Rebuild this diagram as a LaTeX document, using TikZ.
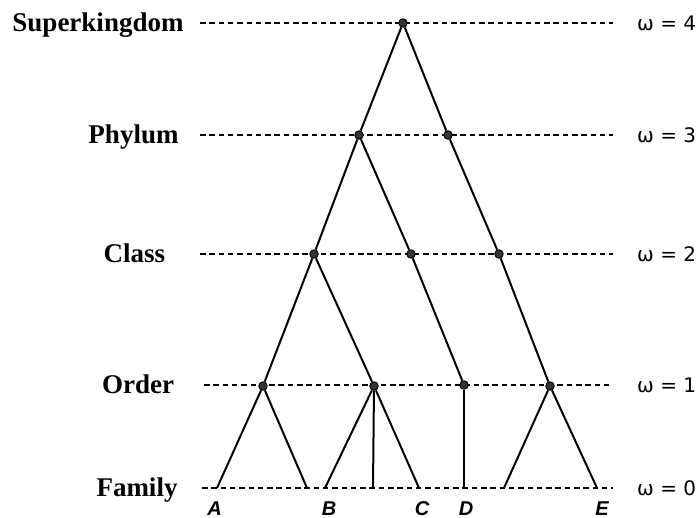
\documentclass[tikz,border=0pt]{standalone}
\usepackage{fontspec}
\setmainfont{Liberation Serif}
\newfontfamily\omegafont{DejaVu Sans}
\newfontfamily\leaffont{Liberation Sans}
\usetikzlibrary{positioning}

\begin{document}
\begin{tikzpicture}[
x=1pt, y=-1pt,
rank/.style={anchor=base, inner sep=0pt, font=\fontsize{27}{31}\selectfont\bfseries},
level/.style={anchor=west, inner sep=0pt, font=\omegafont\fontsize{20}{24}\selectfont},
taxon/.style={anchor=base, inner sep=0pt, font=\leaffont\fontsize{20}{23}\selectfont\bfseries\itshape},
guide/.style={line width=1.7pt, dash pattern=on 5.5pt off 3.8pt},
branch/.style={line width=2pt},
dot/.style={circle, draw=black, fill=black!80, line width=0.9pt, inner sep=0pt, minimum size=8.5pt}
]
\useasboundingbox (0,0) rectangle (700,517);

\foreach \y/\rname/\cx/\xs/\w in {23/Superkingdom/98/200/4, 135/Phylum/133.5/200/3,
    254/Class/134.5/200/2, 385/Order/138/204/1, 488/Family/137/202/0} {
  \node[rank] (r\w) at (\cx,\y+8) {\rname};
  \coordinate (gs\w) at (\xs,\y);
  \coordinate (ge\w) at (613,\y);
  \draw[guide] (gs\w) -- (ge\w);
  \node[level] (w\w) at (637,\y) {ω = \w};
}

\node[dot] (sk) at (403,23) {};
\node[dot] (p1) at (359,135) {};
\node[dot] (p2) at (448,135) {};
\node[dot] (c1) at (314,254) {};
\node[dot] (c2) at (411,254) {};
\node[dot] (c3) at (499,254) {};
\node[dot] (o1) at (263,386) {};
\node[dot] (o2) at (374,386) {};
\node[dot] (o3) at (464,385) {};
\node[dot] (o4) at (550,386) {};

\coordinate (fA) at (217,488);
\coordinate (fA2) at (307,488);
\coordinate (fB) at (325,488);
\coordinate (fB2) at (373,488);
\coordinate (fC) at (419,488);
\coordinate (fD) at (464,488);
\coordinate (fE2) at (504,488);
\coordinate (fE) at (597,488);

\draw[branch] (sk) -- (p1);
\draw[branch] (sk) -- (p2);
\draw[branch] (p1) -- (c1);
\draw[branch] (p1) -- (c2);
\draw[branch] (p2) -- (c3);
\draw[branch] (c1) -- (o1);
\draw[branch] (c1) -- (o2);
\draw[branch] (c2) -- (o3);
\draw[branch] (c3) -- (o4);
\draw[branch] (o1) -- (fA);
\draw[branch] (o1) -- (fA2);
\draw[branch] (o2) -- (fB);
\draw[branch] (o2) -- (fB2);
\draw[branch] (o2) -- (fC);
\draw[branch] (o3) -- (fD);
\draw[branch] (o4) -- (fE2);
\draw[branch] (o4) -- (fE);

\node[taxon] (A) at (214.5,515) {A};
\node[taxon] (B) at (329,515) {B};
\node[taxon] (C) at (422,515) {C};
\node[taxon] (D) at (466,515) {D};
\node[taxon] (E) at (602,515) {E};
\end{tikzpicture}
\end{document}
